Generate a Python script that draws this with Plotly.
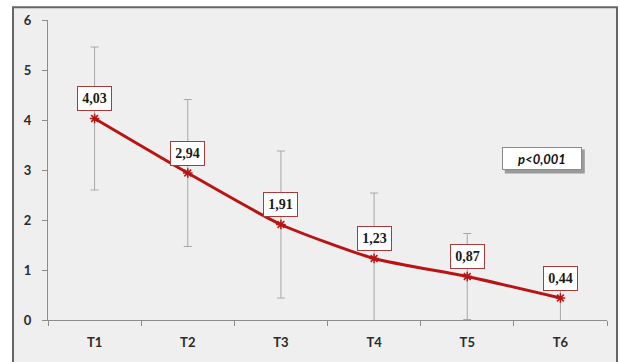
import plotly.graph_objects as go

# Time points and mean values with their standard deviations
timepoints = ["T1", "T2", "T3", "T4", "T5", "T6"]
means = [4.03, 2.94, 1.91, 1.23, 0.87, 0.44]
sds = [1.43, 1.47, 1.47, 1.31, 0.86, 0.57]
value_labels = ["4,03", "2,94", "1,91", "1,23", "0,87", "0,44"]
y_ticks = [0, 1, 2, 3, 4, 5, 6]
p_text = "p<0,001"
p_pos = (4.8, 3.23)

W, H = 621, 362
ML, MR, MT, MB = 48, 14, 20, 39
plot_w = W - ML - MR
plot_h = H - MT - MB

def px_to_paper_x(px):
    return (px - ML) / plot_w

def px_to_paper_y(py):
    return (H - MB - py) / plot_h

RED = "#b81414"
AXIS = "#8c8c8c"
TICKFONT = dict(family="Lato", size=13, color="#2b2b2b")

fig = go.Figure()

fig.add_trace(go.Scatter(
    x=timepoints,
    y=means,
    mode="lines+markers",
    line=dict(color=RED, width=3, shape="spline", smoothing=0.6),
    marker=dict(symbol="asterisk-open", size=8, color=RED,
                line=dict(color=RED, width=1.5)),
    error_y=dict(type="data", array=sds, symmetric=True,
                 color="#a8a8a8", thickness=1, width=4),
    hoverinfo="x+y",
    showlegend=False,
))

# Boxed value labels above each point
for t, v, lab in zip(timepoints, means, value_labels):
    fig.add_annotation(
        x=t, y=v, text="<b>%s</b>" % lab, showarrow=False,
        yshift=20, xanchor="center", yanchor="middle",
        font=dict(family="Liberation Serif", size=14, color="#1a1a1a"),
        bgcolor="white", bordercolor="#a83a3a", borderwidth=1,
        borderpad=2, width=29, height=19,
    )

# Chart frame and grey panel
fig.add_shape(
    type="rect", xref="paper", yref="paper", layer="below",
    x0=px_to_paper_x(13), x1=px_to_paper_x(617),
    y0=px_to_paper_y(380), y1=px_to_paper_y(7),
    fillcolor="#efefef", line=dict(color="#666666", width=2),
)

# Drop shadow behind the significance box
fig.add_shape(
    type="rect", xref="x", yref="y", layer="above",
    xsizemode="pixel", ysizemode="pixel",
    xanchor=p_pos[0], yanchor=p_pos[1],
    x0=-37, x1=43, y0=-15, y1=9,
    fillcolor="#9a9a9a", line=dict(width=0),
)

# Significance box
fig.add_annotation(
    x=p_pos[0], y=p_pos[1], text="<b><i>%s</i></b>" % p_text,
    showarrow=False,
    font=dict(family="Lato", size=13, color="#111111"),
    bgcolor="white", bordercolor="#8a8a8a", borderwidth=1,
    borderpad=1, width=76, height=19,
)

fig.update_layout(
    width=W, height=H,
    margin=dict(l=ML, r=MR, t=MT, b=MB),
    paper_bgcolor="white",
    plot_bgcolor="rgba(0,0,0,0)",
    xaxis=dict(
        type="category", range=[-0.5, 5.5],
        showline=True, linecolor=AXIS, linewidth=1,
        ticks="outside", tickson="boundaries", ticklen=5,
        tickcolor=AXIS, showgrid=False, zeroline=False,
        tickfont=TICKFONT, ticklabelstandoff=10,
        tickvals=timepoints,
        ticktext=["<b>%s</b>" % t for t in timepoints],
    ),
    yaxis=dict(
        range=[0, 6], tickvals=y_ticks,
        ticktext=["<b>%d</b>" % v for v in y_ticks],
        showline=True, linecolor=AXIS, linewidth=1,
        ticks="outside", ticklen=5, tickcolor=AXIS,
        showgrid=False, zeroline=False,
        tickfont=TICKFONT, ticklabelstandoff=8,
    ),
)

fig.write_html("out.html")
